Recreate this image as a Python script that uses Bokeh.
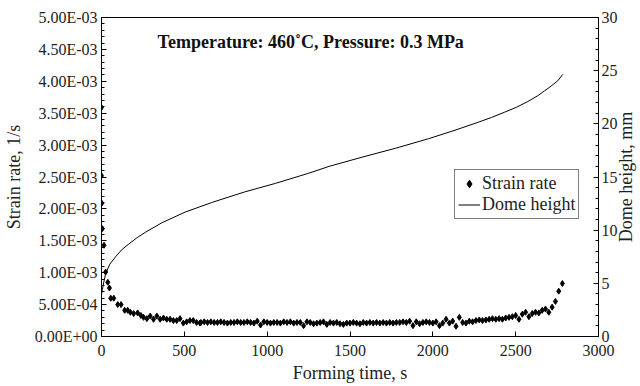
import math
from bokeh.plotting import figure
from bokeh.models import (Range1d, LinearAxis, FixedTicker, CustomJSTickFormatter,
                          Label, Legend, LegendItem)
from bokeh.embed import file_html
from bokeh.resources import INLINE

FONT = "Liberation Serif"

# ---- data ----
sr_time = [0, 0, 2, 5, 15, 25, 38, 48, 56, 74, 98, 118, 140, 158, 174, 194, 218, 238,
           254, 274, 294, 314, 334, 354, 374, 394, 414, 434, 454, 474, 494, 514, 534,
           554, 574, 594,
           600, 620, 640, 660, 680, 700, 720, 740, 760, 780, 800, 820, 840, 860, 880,
           900, 920, 940, 960, 980, 1000, 1020, 1040, 1060, 1080, 1100, 1120, 1140,
           1160, 1180, 1200, 1220, 1240, 1260, 1280, 1300, 1320, 1340, 1360, 1380,
           1400, 1420, 1440, 1460, 1480, 1500, 1520, 1540, 1560, 1580, 1600, 1620,
           1640, 1660, 1680, 1700, 1720, 1740, 1760, 1780, 1800, 1820, 1840, 1860,
           1880, 1900, 1920, 1940, 1960, 1980, 2000, 2020, 2040, 2060, 2080, 2100,
           2120, 2140, 2160, 2180, 2200, 2220, 2240, 2260, 2280, 2300, 2320, 2340,
           2360, 2380, 2400, 2420, 2440, 2460, 2480, 2500, 2520, 2540, 2560, 2580,
           2600, 2620, 2640, 2660, 2680, 2700, 2720, 2740, 2760, 2782]
strain_rate_e3 = [3.59, 2.52, 2.09, 1.69, 1.43, 1.01, 0.85, 0.76, 0.60, 0.60, 0.50, 0.50,
                  0.41, 0.41, 0.38, 0.36, 0.37, 0.33, 0.30, 0.28, 0.32, 0.27, 0.32, 0.27,
                  0.29, 0.27, 0.27, 0.25, 0.25, 0.28, 0.21, 0.23, 0.25, 0.25, 0.22, 0.21,
                  0.22, 0.23, 0.22, 0.23, 0.22, 0.22, 0.23, 0.22, 0.21, 0.22, 0.22, 0.23,
                  0.22, 0.22, 0.23, 0.22, 0.21, 0.24, 0.18, 0.23, 0.22, 0.21, 0.22, 0.22,
                  0.21, 0.23, 0.22, 0.23, 0.21, 0.22, 0.22, 0.17, 0.23, 0.22, 0.20, 0.21,
                  0.22, 0.23, 0.19, 0.22, 0.21, 0.22, 0.20, 0.19, 0.21, 0.21, 0.22, 0.21,
                  0.20, 0.22, 0.21, 0.22, 0.21, 0.22, 0.21, 0.22, 0.21, 0.22, 0.21, 0.22,
                  0.22, 0.23, 0.22, 0.24, 0.17, 0.23, 0.20, 0.22, 0.23, 0.22, 0.21, 0.23,
                  0.17, 0.21, 0.27, 0.21, 0.24, 0.16, 0.30, 0.22, 0.21, 0.24, 0.23, 0.25,
                  0.26, 0.25, 0.26, 0.27, 0.28, 0.27, 0.28, 0.27, 0.29, 0.30, 0.31, 0.33,
                  0.27, 0.35, 0.38, 0.31, 0.36, 0.38, 0.37, 0.41, 0.43, 0.38, 0.46, 0.55,
                  0.71, 0.83]
strain_rate = [v * 1e-3 for v in strain_rate_e3]

dome_time = [0, 5, 15, 25, 50, 85, 125, 165, 215, 265, 365, 505, 665, 865, 1050, 1250,
             1374, 1574, 1774, 1974, 2134, 2274, 2354, 2434, 2504, 2574, 2634, 2674,
             2714, 2754, 2784]
dome_height = [3.9, 4.4, 5.2, 5.9, 6.8, 7.5, 8.2, 8.7, 9.3, 9.8, 10.7, 11.7, 12.6, 13.6,
               14.4, 15.35, 16.0, 16.87, 17.7, 18.6, 19.4, 20.15, 20.6, 21.1, 21.55,
               22.1, 22.65, 23.1, 23.55, 24.05, 24.65]

x_ticks = [0, 500, 1000, 1500, 2000, 2500, 3000]
y_ticks = [0, 0.0005, 0.001, 0.0015, 0.002, 0.0025, 0.003, 0.0035, 0.004, 0.0045, 0.005]
y_minor = [i * 0.0001 for i in range(51)]
y2_ticks = [0, 5, 10, 15, 20, 25, 30]
y2_minor = list(range(31))

title_text = "Temperature: 460\u02daC, Pressure: 0.3 MPa"
right_label_text = "Dome height, mm"

# ---- figure ----
p = figure(width=640, height=386, output_backend="svg", toolbar_location=None,
           x_range=Range1d(0, 3000), y_range=Range1d(0, 0.005),
           min_border_left=101, min_border_right=39, min_border_top=17,
           min_border_bottom=50)
p.extra_y_ranges = {"dome": Range1d(0, 30)}
p.grid.visible = False
p.outline_line_color = "black"
p.outline_line_width = 1
p.background_fill_color = "white"
p.border_fill_color = "white"

def style_axis(ax):
    ax.axis_line_color = "black"
    ax.major_tick_line_color = "black"
    ax.minor_tick_line_color = "black"
    ax.major_tick_in = 5
    ax.major_tick_out = 0
    ax.minor_tick_in = 3
    ax.minor_tick_out = 0
    ax.major_label_text_font = FONT
    ax.major_label_text_font_size = "16px"
    ax.major_label_text_color = "#222222"
    ax.axis_label_text_font = FONT
    ax.axis_label_text_font_size = "18px"
    ax.axis_label_text_font_style = "normal"
    ax.axis_label_text_color = "#222222"

xa = p.xaxis[0]
style_axis(xa)
xa.ticker = FixedTicker(ticks=x_ticks)
xa.minor_tick_line_color = None
xa.axis_label = "Forming time, s"
xa.major_label_standoff = 8
xa.axis_label_standoff = 4

ya = p.yaxis[0]
style_axis(ya)
ya.ticker = FixedTicker(ticks=y_ticks, minor_ticks=y_minor)
ya.formatter = CustomJSTickFormatter(code="""
const s = tick.toExponential(2).toUpperCase();
const parts = s.split("E");
const n = parseInt(parts[1]);
const a = Math.abs(n);
return parts[0] + "E" + (n < 0 ? "-" : "+") + (a < 10 ? "0" : "") + a;
""")
ya.axis_label = "Strain rate, 1/s"
ya.major_label_standoff = 4
ya.axis_label_standoff = 8

ra = LinearAxis(y_range_name="dome")
style_axis(ra)
ra.ticker = FixedTicker(ticks=y2_ticks, minor_ticks=y2_minor)
ra.major_label_standoff = 3
p.add_layout(ra, "right")

r_sr = p.scatter(sr_time, strain_rate, marker="diamond", size=6,
                 fill_color="black", line_color="black")
r_dh = p.line(dome_time, dome_height, y_range_name="dome", line_color="black",
              line_width=1)

p.add_layout(Label(x=1263, y=0.00461, text=title_text, text_font=FONT,
                   text_font_size="18px", text_font_style="bold",
                   text_color="#111111", text_align="center", text_baseline="middle"))

p.add_layout(Label(x=3168, y=0.0025, text=right_label_text,
                   text_font=FONT, text_font_size="18px", text_color="#222222",
                   angle=math.pi / 2, text_align="center", text_baseline="middle"),
             "right")

legend = Legend(items=[LegendItem(label="Strain rate", renderers=[r_sr]),
                       LegendItem(label="Dome height", renderers=[r_dh])],
                location=(353, 117))
legend.label_text_font = FONT
legend.label_text_font_size = "18px"
legend.label_text_color = "#222222"
legend.border_line_color = "black"
legend.border_line_width = 1
legend.background_fill_alpha = 1
legend.padding = 3
legend.spacing = 0
legend.margin = 0
legend.label_height = 19
legend.glyph_height = 19
legend.glyph_width = 22
legend.label_standoff = 2
p.add_layout(legend, "center")

open("out.html", "w").write(file_html(p, INLINE))
